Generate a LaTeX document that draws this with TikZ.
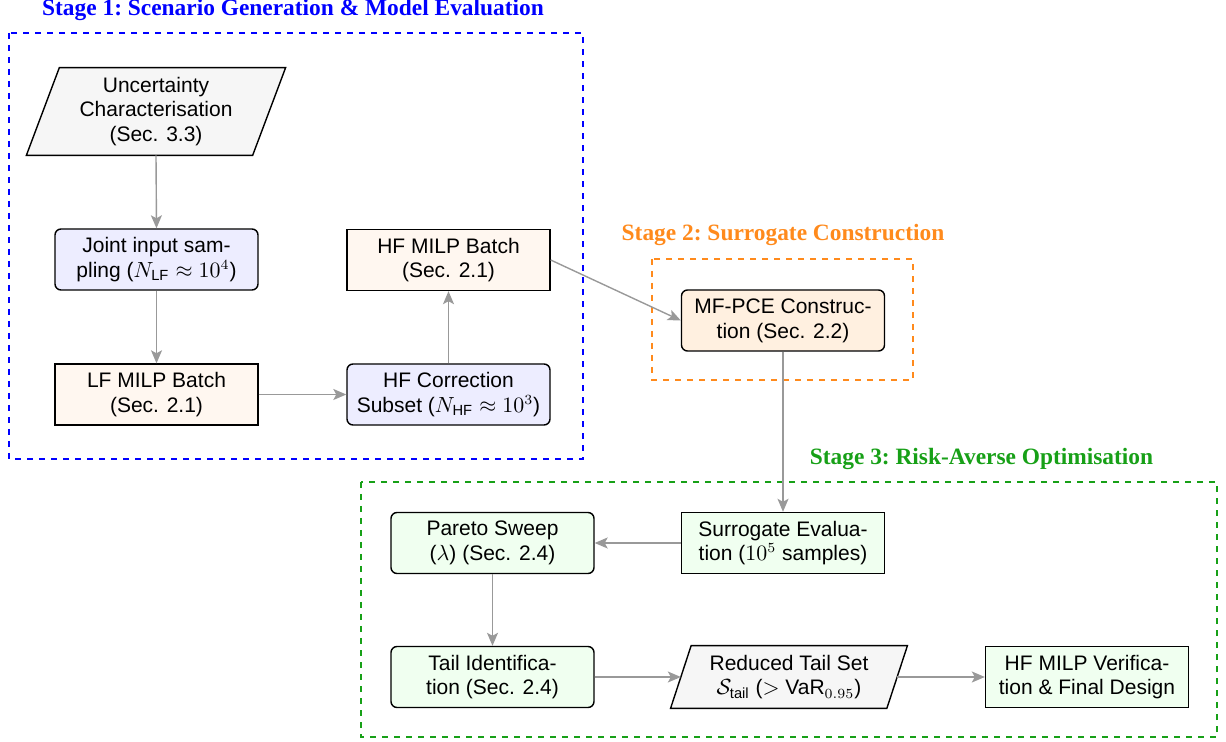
\documentclass[tikz,border=0pt]{standalone}
\usepackage{amsmath}
\usepackage[no-math]{fontspec}
\setmainfont{Liberation Sans}
\newfontfamily\titlefont{Liberation Serif}
\usetikzlibrary{arrows.meta,calc,backgrounds}
\definecolor{sgreen}{HTML}{17A017}
\definecolor{sorange}{HTML}{FF8A1C}
\begin{document}
\begin{tikzpicture}[x=0.5pt,y=-0.5pt,
  font=\fontsize{10.5}{12.4}\selectfont,
  box/.style={draw=black, line width=0.7pt, minimum width=101.5pt, minimum height=30.5pt, align=center, inner sep=2pt},
  rbox/.style={box, rounded corners=3pt},
  para/.style={align=center, inner sep=2pt},
  parafill/.style={draw=black, line width=0.7pt, fill=gray!7},
  conn/.style={draw=black!40, line width=0.7pt, -{Stealth[length=6.5pt,width=5.5pt,inset=1.5pt]}},
  stage/.style={dashed, line width=0.7pt},
  stitle/.style={font=\titlefont\bfseries\frenchspacing\fontsize{11.7}{14}\selectfont}]
\useasboundingbox (0,0) rectangle (1226,742);

% stage frames
\draw[stage, draw=blue] (9,33) rectangle (583,459);
\draw[stage, draw=sorange] (652,259) rectangle (913,380);
\draw[stage, draw=sgreen] (361,482) rectangle (1217,737);

% titles
\node[stitle, text=blue] (t1) at (293,10) {Stage 1: Scenario Generation \& Model Evaluation};
\node[stitle, text=sorange] (t2) at (783,235) {Stage 2: Surrogate Construction};
\node[stitle, text=sgreen] (t3) at (981.5,459) {Stage 3: Risk-Averse Optimisation};

% stage 1
\node[para, minimum width=112.75pt, minimum height=43.5pt] (unc) at (156,111.5) {Uncertainty\\Characterisation\\(Sec. 3.3)};
\node[rbox, fill=blue!7] (joint) at (156.5,259.5) {Joint input sam-\\pling ($N_{\text{LF}}\approx 10^4$)};
\node[box, fill=orange!6] (lf) at (156.5,394.5) {LF MILP Batch\\(Sec. 2.1)};
\node[rbox, fill=blue!7] (hfc) at (448.5,394.5) {HF Correction\\Subset ($N_{\text{HF}}\approx 10^3$)};
\node[box, fill=orange!6] (hfm) at (448.5,260) {HF MILP Batch\\(Sec. 2.1)};

% stage 2
\node[rbox, fill=orange!12] (mf) at (783,320.5) {MF-PCE Construc-\\tion (Sec. 2.2)};

% stage 3
\node[box, fill=green!6] (surr) at (783,543) {Surrogate Evalua-\\tion ($10^5$ samples)};
\node[rbox, fill=green!6] (par) at (492.5,543) {Pareto Sweep\\($\lambda$) (Sec. 2.4)};
\node[rbox, fill=green!6] (tail) at (492.5,677) {Tail Identifica-\\tion (Sec. 2.4)};
\node[para, minimum width=107.75pt, minimum height=31pt] (red) at (789,677) {Reduced Tail Set\\$\mathcal{S}_{\text{tail}}$ ($>$ VaR$_{0.95}$)};
\node[box, fill=green!6] (hfv) at (1087,677) {HF MILP Verifica-\\tion \& Final Design};

% parallelogram outlines
\begin{scope}[on background layer]
\draw[parafill] ($(unc.south west)+(-16.5,0)$) -- ($(unc.north west)+(16.5,0)$) -- ($(unc.north east)+(16.5,0)$) -- ($(unc.south east)+(-16.5,0)$) -- cycle;
\draw[parafill] ($(red.south west)+(-10.3,0)$) -- ($(red.north west)+(10.3,0)$) -- ($(red.north east)+(10.3,0)$) -- ($(red.south east)+(-10.3,0)$) -- cycle;
\end{scope}

% connectors
\draw[conn] (unc.south) -- (joint.north);
\draw[conn] (joint.south) -- (lf.north);
\draw[conn] (lf.east) -- (hfc.west);
\draw[conn] (hfc.north) -- (hfm.south);
\draw[conn] (hfm.east) -- (mf.west);
\draw[conn] (mf.south) -- (surr.north);
\draw[conn] (surr.west) -- (par.east);
\draw[conn] (par.south) -- (tail.north);
\draw[conn] (tail.east) -- (red.west);
\draw[conn] (red.east) -- (hfv.west);
\end{tikzpicture}
\end{document}
